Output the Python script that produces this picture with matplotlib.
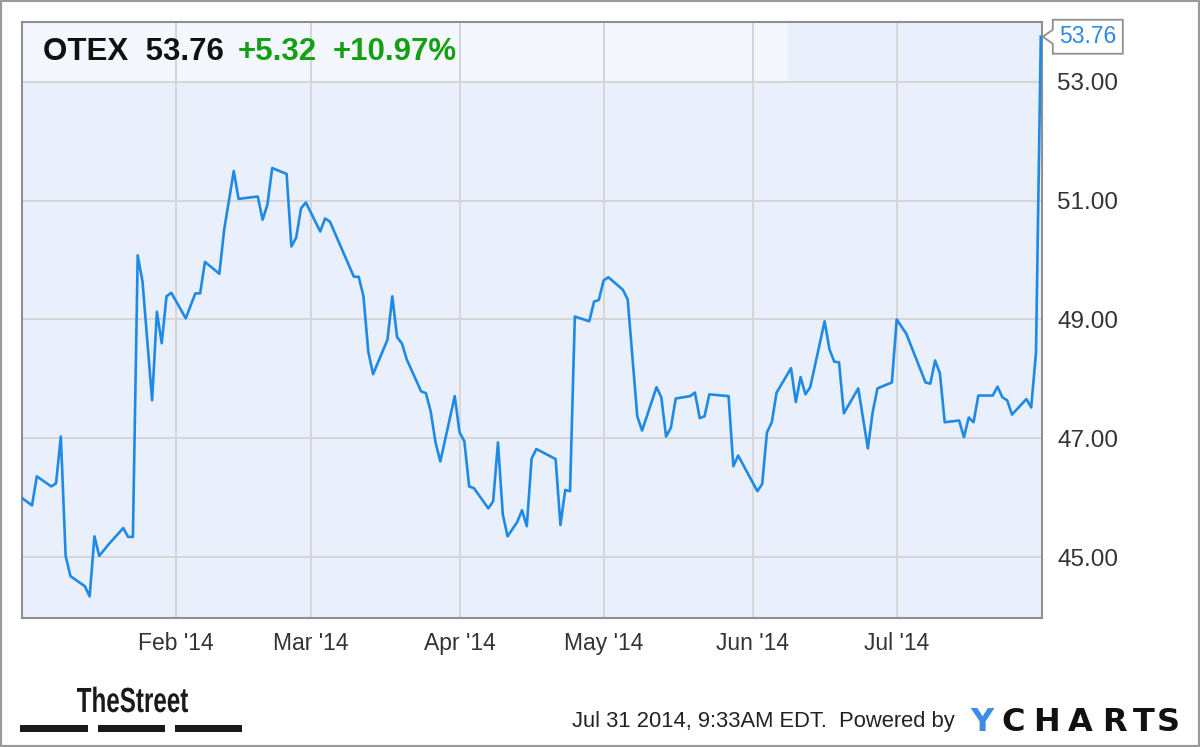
import matplotlib
matplotlib.use('Agg')
from matplotlib import pyplot as plt
import matplotlib.dates as mdates
from matplotlib.patches import Rectangle, Polygon, PathPatch
from matplotlib.textpath import TextPath
from matplotlib.font_manager import FontProperties
from matplotlib.transforms import Affine2D
import pandas as pd

# OTEX daily closes, Dec 2013 - Jul 2014
dates = [
    '2013-12-31', '2014-01-02', '2014-01-03', '2014-01-06', '2014-01-07', '2014-01-08',
    '2014-01-09', '2014-01-10', '2014-01-13', '2014-01-14', '2014-01-15', '2014-01-16',
    '2014-01-18', '2014-01-21', '2014-01-22', '2014-01-23', '2014-01-24', '2014-01-25',
    '2014-01-27', '2014-01-28', '2014-01-29', '2014-01-30', '2014-01-31', '2014-02-03',
    '2014-02-05', '2014-02-06', '2014-02-07', '2014-02-10', '2014-02-11', '2014-02-13',
    '2014-02-14', '2014-02-18', '2014-02-19', '2014-02-20', '2014-02-21', '2014-02-24',
    '2014-02-25', '2014-02-26', '2014-02-27', '2014-02-28', '2014-03-03', '2014-03-04',
    '2014-03-05', '2014-03-10', '2014-03-11', '2014-03-12', '2014-03-13', '2014-03-14',
    '2014-03-17', '2014-03-18', '2014-03-19', '2014-03-20', '2014-03-21', '2014-03-24',
    '2014-03-25', '2014-03-26', '2014-03-27', '2014-03-28', '2014-03-31', '2014-04-01',
    '2014-04-02', '2014-04-03', '2014-04-04', '2014-04-07', '2014-04-08', '2014-04-09',
    '2014-04-10', '2014-04-11', '2014-04-13', '2014-04-14', '2014-04-15', '2014-04-16',
    '2014-04-17', '2014-04-21', '2014-04-22', '2014-04-23', '2014-04-24', '2014-04-25',
    '2014-04-28', '2014-04-29', '2014-04-30', '2014-05-01', '2014-05-02', '2014-05-05',
    '2014-05-06', '2014-05-08', '2014-05-09', '2014-05-12', '2014-05-13', '2014-05-14',
    '2014-05-15', '2014-05-16', '2014-05-19', '2014-05-20', '2014-05-21', '2014-05-22',
    '2014-05-23', '2014-05-27', '2014-05-28', '2014-05-29', '2014-06-02', '2014-06-03',
    '2014-06-04', '2014-06-05', '2014-06-06', '2014-06-09', '2014-06-10', '2014-06-11',
    '2014-06-12', '2014-06-13', '2014-06-16', '2014-06-17', '2014-06-18', '2014-06-19',
    '2014-06-20', '2014-06-23', '2014-06-25', '2014-06-26', '2014-06-27', '2014-06-30',
    '2014-07-01', '2014-07-03', '2014-07-07', '2014-07-08', '2014-07-09', '2014-07-10',
    '2014-07-11', '2014-07-14', '2014-07-15', '2014-07-16', '2014-07-17', '2014-07-18',
    '2014-07-21', '2014-07-22', '2014-07-23', '2014-07-24', '2014-07-25', '2014-07-28',
    '2014-07-29', '2014-07-30', '2014-07-31',
]
closes = [
    45.99, 45.87, 46.36, 46.19, 46.24, 47.03,
    45.02, 44.68, 44.51, 44.34, 45.35, 45.02,
    45.22, 45.49, 45.34, 45.34, 50.08, 49.64,
    47.64, 49.13, 48.60, 49.39, 49.45, 49.02,
    49.44, 49.44, 49.97, 49.77, 50.51, 51.50,
    51.03, 51.07, 50.68, 50.93, 51.55, 51.45,
    50.23, 50.38, 50.87, 50.97, 50.48, 50.70,
    50.65, 49.72, 49.72, 49.39, 48.46, 48.08,
    48.66, 49.39, 48.70, 48.60, 48.33, 47.79,
    47.76, 47.45, 46.93, 46.61, 47.71, 47.10,
    46.95, 46.19, 46.16, 45.82, 45.94, 46.93,
    45.72, 45.35, 45.59, 45.79, 45.52, 46.66,
    46.82, 46.65, 45.54, 46.13, 46.11, 49.05,
    48.97, 49.30, 49.33, 49.66, 49.71, 49.50,
    49.34, 47.37, 47.13, 47.86, 47.69, 47.03,
    47.18, 47.67, 47.71, 47.77, 47.34, 47.37,
    47.74, 47.71, 46.53, 46.71, 46.11, 46.23,
    47.10, 47.27, 47.77, 48.18, 47.61, 48.03,
    47.74, 47.86, 48.97, 48.50, 48.29, 48.28,
    47.42, 47.84, 46.83, 47.44, 47.84, 47.94,
    49.00, 48.76, 47.94, 47.92, 48.31, 48.09,
    47.27, 47.30, 47.02, 47.35, 47.27, 47.72,
    47.72, 47.87, 47.69, 47.64, 47.40, 47.66,
    47.52, 48.44, 53.76,
]
ticker = 'OTEX'
last_price = '53.76'
change = '+5.32'
change_pct = '+10.97%'
y_ticks = [45, 47, 49, 51, 53]
month_ticks = ['2014-02-01', '2014-03-01', '2014-04-01', '2014-05-01', '2014-06-01', '2014-07-01']

BLUE = '#1f8ae6'
GREEN = '#13a013'

plt.rcParams['font.family'] = ['Liberation Sans', 'DejaVu Sans']

W, H = 1200, 747
fig = plt.figure(figsize=(W / 100, H / 100), dpi=100)
fig.patch.set_facecolor('white')
ax = fig.add_axes([22 / W, 129 / H, 1020 / W, 596 / H])
ax.set_facecolor('#eaf0fb')

x = pd.to_datetime(dates)
ax.plot(x, closes, color=BLUE, lw=1.9, solid_joinstyle='round', zorder=3)

ax.set_xlim(pd.Timestamp('2013-12-30 22:00'), pd.Timestamp('2014-07-31 06:00'))
ax.set_ylim(43.975, 54.008)

ax.set_yticks(y_ticks)
ax.set_yticklabels([f'{v:.2f}' for v in y_ticks])
ax.yaxis.tick_right()
ax.set_xticks(pd.to_datetime(month_ticks))
ax.xaxis.set_major_formatter(mdates.DateFormatter("%b '%y"))
ax.tick_params(axis='y', length=0, pad=11, labelsize=17.5, labelcolor='#333333')
ax.tick_params(axis='x', length=0, pad=10, labelsize=16.5, labelcolor='#333333')
ax.set_axisbelow(True)
ax.grid(True, color='#d6d6d6', lw=1.4)
for s in ax.spines.values():
    s.set_color('#8f8f8f')
    s.set_linewidth(1.5)

# lighter header band behind the quote
ax.add_patch(Rectangle((0, 1 - 60 / 596), 766 / 1020, 60 / 596, transform=ax.transAxes,
                       facecolor='#f4f7fd', edgecolor='none', zorder=0.1))

# quote header
fig.text(43 / W, 1 - 60 / H, f'{ticker}  {last_price}', fontsize=22.5, fontweight='bold',
         color='#111111', va='baseline')
fig.text(238 / W, 1 - 60 / H, change, fontsize=22.5, fontweight='bold', color=GREEN, va='baseline')
fig.text(333 / W, 1 - 60 / H, change_pct, fontsize=22.5, fontweight='bold', color=GREEN, va='baseline')

# last price callout
fig.canvas.draw()
tx, ty = ax.transData.transform((mdates.date2num(x[-1]), closes[-1]))
tx += 2
tag = [(tx, ty), (tx + 10, ty + 7), (tx + 10, ty + 17), (tx + 80, ty + 17),
       (tx + 80, ty - 17), (tx + 10, ty - 17), (tx + 10, ty - 7)]
fig.add_artist(Polygon(tag, closed=True, transform=None, facecolor='white',
                       edgecolor='#8f8f8f', lw=1.3, zorder=5))
fig.text((tx + 45) / W, ty / H, last_price, fontsize=16.5, color='#2a8ae0',
         ha='center', va='center', zorder=6)

# footer: condensed "TheStreet" wordmark
fp = FontProperties(family='Liberation Sans', weight='bold')
tp = TextPath((0, 0), 'TheStreet', size=1, prop=fp)
bb = tp.get_extents()
logo_tr = Affine2D().translate(-bb.x0, 0).scale(111 / bb.width, 25 / 0.716).translate(77, H - 712)
fig.add_artist(PathPatch(logo_tr.transform_path(tp), transform=None,
                         facecolor='#1a1a1a', edgecolor='none'))
for x0, x1 in [(20, 88), (98, 165), (175, 242)]:
    fig.add_artist(Rectangle((x0 / W, 1 - 732 / H), (x1 - x0) / W, 7 / H,
                             transform=fig.transFigure, facecolor='#1a1a1a', edgecolor='none'))

fig.text(572 / W, 1 - 727 / H, 'Jul 31 2014, 9:33AM EDT.  Powered by', fontsize=15.8,
         color='#222222', va='baseline')
for ch, cx in zip('YCHARTS', [982, 1013, 1046, 1080, 1114, 1144, 1168]):
    fig.text(cx / W, 1 - 731 / H, ch, fontsize=23, fontweight='heavy',
             color='#3b8ee4' if ch == 'Y' else '#111111', ha='center', va='baseline',
             family=['DejaVu Sans'])

# outer frame
fig.add_artist(Rectangle((0, 0), 1, 1, transform=fig.transFigure, fill=False,
                         edgecolor='#9a9a9a', lw=3))

fig.savefig('out.png', dpi=100)
